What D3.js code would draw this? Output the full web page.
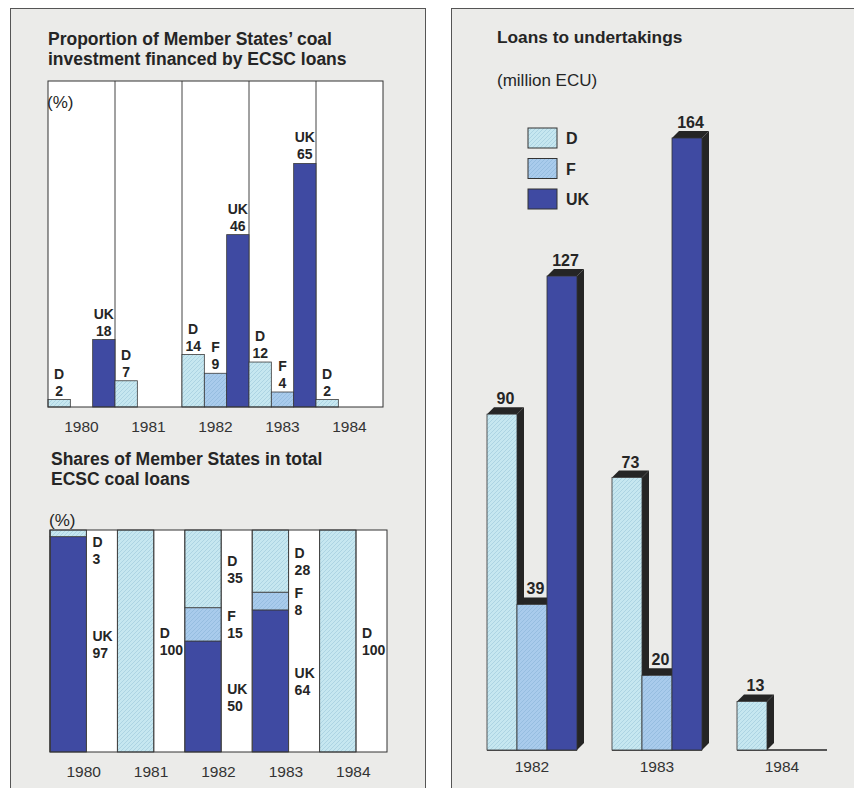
<!DOCTYPE html>
<html>
<head>
<meta charset="utf-8">
<script src="https://cdn.jsdelivr.net/npm/d3@7"></script>
<style>
body { margin: 0; background: #fff; }
svg { display: block; font-family: "Liberation Sans", Arial, sans-serif; }
</style>
</head>
<body>
<script>
var years = ["1980", "1981", "1982", "1983", "1984"];
var series = ["D", "F", "UK"];

// proportion of coal investment financed by ECSC loans (%)
var propD = [2, 7, 14, 12, 2];
var propF = [0, 0, 9, 4, 0];
var propUK = [18, 0, 46, 65, 0];

// shares of member states in total ECSC coal loans (%)
var shareD = [3, 100, 35, 28, 100];
var shareF = [0, 0, 15, 8, 0];
var shareUK = [97, 0, 50, 64, 0];

// loans to undertakings (million ECU)
var loanYears = ["1982", "1983", "1984"];
var loanD = [90, 73, 13];
var loanF = [39, 20, 0];
var loanUK = [127, 164, 0];

var colors = { D: "#c6e7f0", F: "#a9cbec", UK: "#3f4aa2" };
var ink = "#252525";

var svg = d3.select("body").append("svg")
	.attr("width", 854)
	.attr("height", 788);

// light hatch texture for the pale bars
var defs = svg.append("defs");
["D", "F"].forEach(function (k) {
	var p = defs.append("pattern")
		.attr("id", "hatch-" + k)
		.attr("patternUnits", "userSpaceOnUse")
		.attr("width", 4).attr("height", 4);
	p.append("rect").attr("width", 4).attr("height", 4).attr("fill", colors[k]);
	p.append("path").attr("d", "M0,4 L4,0 M-1,1 L1,-1 M3,5 L5,3")
		.attr("stroke", "rgba(70,130,170,0.28)").attr("stroke-width", 0.7);
});
function fillOf(k) { return k === "UK" ? colors.UK : "url(#hatch-" + k + ")"; }

// panels
svg.append("rect").attr("x", 10.5).attr("y", 8.5).attr("width", 415).attr("height", 800)
	.attr("fill", "#ebebe9").attr("stroke", "#555");
svg.append("rect").attr("x", 451.5).attr("y", 8.5).attr("width", 420).attr("height", 800)
	.attr("fill", "#ebebe9").attr("stroke", "#555");

function title(x, y, lines, size) {
	var t = svg.append("text").attr("x", x).attr("y", y)
		.attr("font-size", size).attr("font-weight", "bold").attr("fill", ink);
	lines.forEach(function (l, i) {
		t.append("tspan").attr("x", x).attr("dy", i ? 19.5 : 0).text(l);
	});
}

// ---------- top left: proportion financed ----------
title(48, 45, ["Proportion of Member States\u2019 coal", "investment financed by ECSC loans"], 17.5);

var x1 = d3.scaleBand().domain(years).range([48, 383]);
var s1 = d3.scaleBand().domain(series).range([0, x1.bandwidth()]);
var y1 = d3.scaleLinear().domain([0, 87]).range([407, 81]);

var rows1 = years.map(function (yr, i) {
	return { year: yr, D: propD[i], F: propF[i], UK: propUK[i] };
});

var g1 = svg.append("g");
g1.append("rect").attr("x", 48).attr("y", y1(87)).attr("width", 335).attr("height", y1(0) - y1(87))
	.attr("fill", "#fff");

years.slice(1).forEach(function (yr) {
	g1.append("line").attr("x1", x1(yr)).attr("x2", x1(yr))
		.attr("y1", y1(87)).attr("y2", y1(0)).attr("stroke", "#444").attr("stroke-width", 1);
});

rows1.forEach(function (r) {
	series.forEach(function (k) {
		if (!r[k]) return;
		var bx = x1(r.year) + s1(k);
		g1.append("rect").attr("x", bx).attr("y", y1(r[k]))
			.attr("width", s1.bandwidth()).attr("height", y1(0) - y1(r[k]))
			.attr("fill", fillOf(k)).attr("stroke", "#3a3a3a").attr("stroke-width", 0.8);
		var t = g1.append("text").attr("text-anchor", "middle")
			.attr("font-size", 14).attr("font-weight", "bold").attr("fill", ink);
		t.append("tspan").attr("x", bx + s1.bandwidth() / 2).attr("y", y1(r[k]) - 21).text(k);
		t.append("tspan").attr("x", bx + s1.bandwidth() / 2).attr("y", y1(r[k]) - 4).text(r[k]);
	});
});

g1.append("rect").attr("x", 48).attr("y", y1(87)).attr("width", 335).attr("height", y1(0) - y1(87))
	.attr("fill", "none").attr("stroke", "#333").attr("stroke-width", 1);

g1.append("text").attr("x", 47).attr("y", 108).attr("font-size", 17).attr("fill", ink).text("(%)");

g1.selectAll(".yr").data(years).enter().append("text")
	.attr("x", function (d) { return x1(d) + x1.bandwidth() / 2; })
	.attr("y", 432).attr("text-anchor", "middle").attr("font-size", 15.5).attr("fill", "#333")
	.text(function (d) { return d; });

// ---------- bottom left: shares ----------
title(51, 465, ["Shares of Member States in total", "ECSC coal loans"], 17.5);

var x2 = d3.scaleBand().domain(years).range([50, 387]);
var barW = x2.bandwidth() * 0.54;
var y2 = d3.scaleLinear().domain([0, 100]).range([752, 530]);

var rows2 = years.map(function (yr, i) {
	return { year: yr, D: shareD[i], F: shareF[i], UK: shareUK[i] };
});
var stack = d3.stack().keys(["UK", "F", "D"])(rows2);

var g2 = svg.append("g");
g2.append("rect").attr("x", 50).attr("y", 530).attr("width", 337).attr("height", 222).attr("fill", "#fff");

stack.forEach(function (layer) {
	layer.forEach(function (d) {
		var v = d[1] - d[0];
		if (!v) return;
		var yr = d.data.year;
		g2.append("rect").attr("x", x2(yr)).attr("y", y2(d[1]))
			.attr("width", barW).attr("height", y2(d[0]) - y2(d[1]))
			.attr("fill", fillOf(layer.key)).attr("stroke", "#3a3a3a").attr("stroke-width", 0.8);
		var mid = Math.max((y2(d[0]) + y2(d[1])) / 2, 550);
		var lx = x2(yr) + barW + 6;
		var t = g2.append("text").attr("font-size", 14).attr("font-weight", "bold").attr("fill", ink);
		t.append("tspan").attr("x", lx).attr("y", mid - 3).text(layer.key);
		t.append("tspan").attr("x", lx).attr("y", mid + 14).text(v);
	});
});

years.forEach(function (yr) {
	[x2(yr), x2(yr) + barW].forEach(function (xx) {
		g2.append("line").attr("x1", xx).attr("x2", xx).attr("y1", 530).attr("y2", 752)
			.attr("stroke", "#444").attr("stroke-width", 1);
	});
});
g2.append("rect").attr("x", 50).attr("y", 530).attr("width", 337).attr("height", 222)
	.attr("fill", "none").attr("stroke", "#333").attr("stroke-width", 1);

g2.append("text").attr("x", 49).attr("y", 526).attr("font-size", 17).attr("fill", ink).text("(%)");

g2.selectAll(".yr").data(years).enter().append("text")
	.attr("x", function (d) { return x2(d) + x2.bandwidth() / 2; })
	.attr("y", 777).attr("text-anchor", "middle").attr("font-size", 15.5).attr("fill", "#333")
	.text(function (d) { return d; });

// ---------- right: loans to undertakings ----------
title(497, 43, ["Loans to undertakings"], 17.3);
svg.append("text").attr("x", 497).attr("y", 86).attr("font-size", 17).attr("fill", ink).text("(million ECU)");

var legend = svg.append("g");
series.forEach(function (k, i) {
	var ly = 128 + i * 30.5;
	legend.append("rect").attr("x", 528).attr("y", ly).attr("width", 29).attr("height", 20)
		.attr("fill", fillOf(k)).attr("stroke", "#333").attr("stroke-width", 1);
	legend.append("text").attr("x", 566).attr("y", ly + 16).attr("font-size", 16)
		.attr("font-weight", "bold").attr("fill", ink).text(k);
});

var x3 = d3.scaleBand().domain(loanYears).range([487, 827]).paddingInner(0.28);
var s3 = d3.scaleBand().domain(series).range([0, x3.bandwidth()]);
var y3 = d3.scaleLinear().domain([0, 164]).range([750, 138]);
var depth = 7;

var rows3 = loanYears.map(function (yr, i) {
	return { year: yr, D: loanD[i], F: loanF[i], UK: loanUK[i] };
});

var g3 = svg.append("g");
rows3.forEach(function (r) {
	var gx = x3(r.year);
	g3.append("line").attr("x1", gx).attr("x2", gx + x3.bandwidth())
		.attr("y1", y3(0)).attr("y2", y3(0)).attr("stroke", ink).attr("stroke-width", 1.3);
	series.forEach(function (k) {
		if (!r[k]) return;
		var xa = gx + s3(k), xb = xa + s3.bandwidth();
		var yt = y3(r[k]), yb = y3(0);
		g3.append("polygon").attr("fill", ink)
			.attr("points", [[xa, yt], [xa + depth, yt - depth], [xb + depth, yt - depth], [xb, yt]].join(" "));
		g3.append("polygon").attr("fill", ink)
			.attr("points", [[xb, yt], [xb + depth, yt - depth], [xb + depth, yb - depth], [xb, yb]].join(" "));
		g3.append("rect").attr("x", xa).attr("y", yt).attr("width", s3.bandwidth()).attr("height", yb - yt)
			.attr("fill", fillOf(k)).attr("stroke", "#333").attr("stroke-width", 0.8);
		g3.append("text").attr("x", xa + s3.bandwidth() / 2 + depth / 2).attr("y", yt - 10)
			.attr("text-anchor", "middle").attr("font-size", 16).attr("font-weight", "bold")
			.attr("fill", ink).text(r[k]);
	});
});

g3.selectAll(".yr").data(loanYears).enter().append("text")
	.attr("x", function (d) { return x3(d) + x3.bandwidth() / 2; })
	.attr("y", 772).attr("text-anchor", "middle").attr("font-size", 15.5).attr("fill", "#333")
	.text(function (d) { return d; });
</script>
</body>
</html>
